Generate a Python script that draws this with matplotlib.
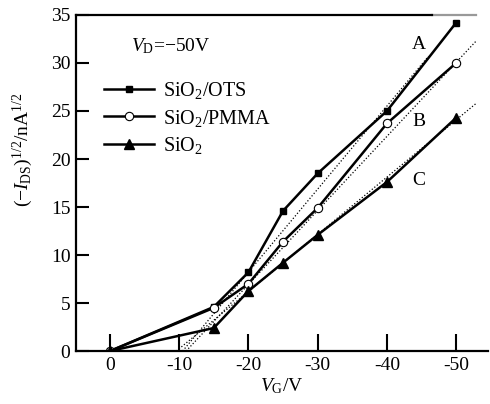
import numpy as np
import matplotlib
matplotlib.use('Agg')
import matplotlib.pyplot as plt

plt.rcParams['font.family'] = ['Liberation Serif', 'DejaVu Serif']
plt.rcParams['mathtext.fontset'] = 'custom'
plt.rcParams['mathtext.rm'] = 'Liberation Serif'
plt.rcParams['mathtext.it'] = 'Liberation Serif:italic'
plt.rcParams['axes.unicode_minus'] = False

vg = [0, -15, -20, -25, -30, -40, -50]
ots = [0, 4.6, 8.2, 14.6, 18.5, 25.0, 34.2]
pmma = [0, 4.5, 7.0, 11.4, 14.9, 23.7, 30.0]
sio2 = [0, 2.4, 6.25, 9.2, 12.1, 17.6, 24.3]

# linear fits (dotted), endpoints of each fit line
fit_a_x = [-10.5, -46.0]
fit_a_y = [0.0, 30.7]
fit_b_x = [-11.0, -52.9]
fit_b_y = [0.0, 32.3]
fit_c_x = [-9.6, -52.9]
fit_c_y = [0.0, 25.8]

xticks = [0, -10, -20, -30, -40, -50]
xticklabels = ['0', '-10', '-20', '-30', '-40', '-50']
yticks = [0, 5, 10, 15, 20, 25, 30, 35]

fig = plt.figure(figsize=(4.9, 4.04), dpi=100)
ax = fig.add_axes([0.155, 0.131, 0.841, 0.832])

for fx, fy in [(fit_a_x, fit_a_y), (fit_b_x, fit_b_y), (fit_c_x, fit_c_y)]:
    ax.plot(fx, fy, color='black', lw=0.9, ls=(0, (1, 1.6)))

ax.plot(vg, ots, color='black', lw=1.8, marker='s', ms=5,
        mfc='black', mec='black', label='SiO$_2$/OTS')
ax.plot(vg, pmma, color='black', lw=1.8, marker='o', ms=6,
        mfc='white', mec='black', mew=0.8, label='SiO$_2$/PMMA')
ax.plot(vg, sio2, color='black', lw=1.8, marker='^', ms=6.5,
        mfc='black', mec='black', label='SiO$_2$')

ax.set_xlim(4.9, -54.6)
ax.set_ylim(0, 35)
ax.set_xticks(xticks)
ax.set_xticklabels(xticklabels)
ax.set_yticks(yticks)
ax.tick_params(direction='in', length=9, width=1.5, labelsize=14, pad=4)
ax.tick_params(axis='x', length=12)

for s in ['left', 'bottom', 'top']:
    ax.spines[s].set_linewidth(1.6)
ax.spines['right'].set_visible(False)
ax.spines['top'].set_bounds(4.9, -46.5)
ax.plot([-46.5, -52.8], [35, 35], color='0.6', lw=1.6, clip_on=False)

ax.text(-44.6, 31.9, 'A', fontsize=14, ha='center', va='center')
ax.text(-44.6, 23.9, 'B', fontsize=14, ha='center', va='center')
ax.text(-44.6, 17.8, 'C', fontsize=14, ha='center', va='center')
ax.text(-3.0, 31.7, r'$V_{\rm D}$=−50V', fontsize=14, ha='left', va='center')

ax.legend(loc='upper left', bbox_to_anchor=(0.067, 0.805), frameon=False,
          fontsize=14.5, handlelength=2.5, handletextpad=0.45,
          labelspacing=0.3, borderaxespad=0.0, borderpad=0.0)

ax.set_xlabel(r'$V_{\rm G}$/V', fontsize=14, labelpad=2)
ax.set_ylabel(r'$(-I_{\rm DS})^{1/2}$/nA$^{1/2}$', fontsize=14)
ax.yaxis.set_label_coords(-0.1, 0.6)

fig.savefig('out.png', dpi=100)
